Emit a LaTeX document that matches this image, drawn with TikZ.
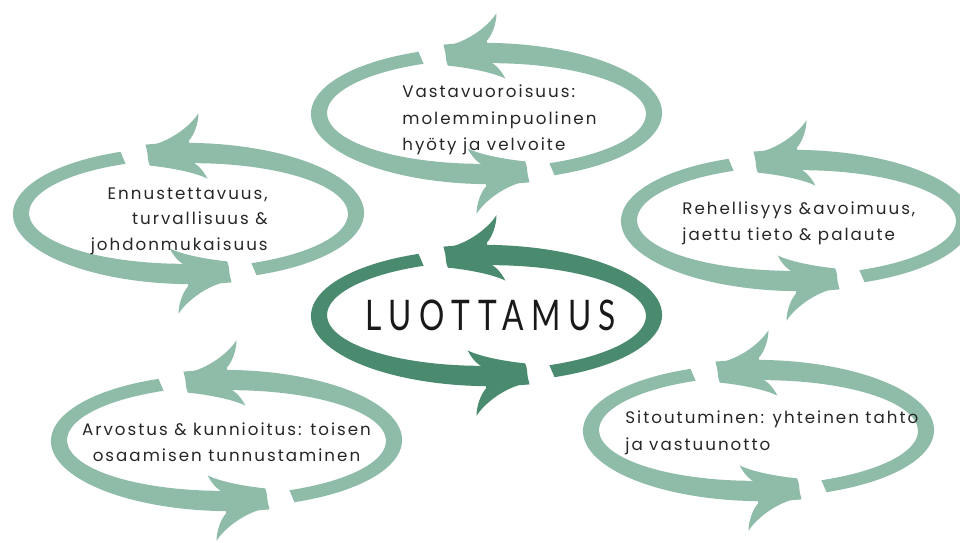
\documentclass[tikz,border=0pt]{standalone}
\usepackage{fontspec}
\setmainfont{Poppins}
\newfontfamily\ringfont[LetterSpace=12]{Poppins}
\newfontfamily\bigfont[FakeStretch=0.75,LetterSpace=18]{Lato}
\usetikzlibrary{positioning}
\definecolor{lightring}{HTML}{8FBCA8}
\definecolor{darkring}{HTML}{4A8A6E}
\tikzset{%
    % half of a ring: band from tail to head, then the barbed head
    halfring/.pic={
        \fill plot[domain=-67:104,samples=60,variable=\t]
            ({(167.5+6.5+4*(\t+67)/171)*cos(\t)},{(60.5+6.5+4*(\t+67)/171)*sin(\t)})
            -- plot[domain=104:-67,samples=60,variable=\t]
            ({(167.5-6.5-4*(\t+67)/171)*cos(\t)},{(60.5-6.5-4*(\t+67)/171)*sin(\t)})
            -- cycle;
        \fill[shift={(-40.5,58.7)},rotate=5.1]
            (42,10.5) .. controls (48,16) and (53,27) .. (54,37)
            .. controls (44,24) and (22,11) .. (2,9)
            .. controls (-1,5) and (-1,-7) .. (1,-11)
            .. controls (22,-15) and (46,-22) .. (57,-29)
            .. controls (54,-21) and (48,-13) .. (42,-10.5) -- cycle;
    },
    % two halves, turned half a turn
    ringpair/.pic={
        \pic {halfring};
        \pic[rotate=180] {halfring};
    },
}
\begin{document}
\begin{tikzpicture}[x=0.02cm,y=0.02cm]

    \tikzstyle{lbl}=[inner sep=0pt, text=black!85, font=\ringfont\fontsize{9.5}{11}\selectfont]
    \tikzstyle{title}=[inner sep=0pt, text=black!90, font=\bigfont\fontsize{24}{28}\selectfont]

    \clip (0,0) rectangle (960,542);

    % rings
    \pic[lightring] (ringtop)   at (486.5,428.5) {ringpair};
    \pic[lightring] (ringleft)  at (188.5,328.5) {ringpair};
    \pic[lightring] (ringright) at (796.5,321.5) {ringpair};
    \pic[lightring] (ringbl)    at (226.5,101.5) {ringpair};
    \pic[lightring] (ringbr)    at (758.5,111.5) {ringpair};
    \pic[darkring]  (ringmid)   at (486.5,226.5) {ringpair};

    % texts
    \node[title, anchor=base] (trust) at (491,212) {LUOTTAMUS};

    \node[lbl, anchor=base west] (recip1) at (402,444) {Vastavuoroisuus:};
    \node[lbl, anchor=base west] (recip2) at (402,418) {molemminpuolinen};
    \node[lbl, anchor=base west] (recip3) at (402,392) {hyöty ja velvoite};

    \node[lbl, anchor=base east] (pred1) at (268,343) {Ennustettavuus,};
    \node[lbl, anchor=base east] (pred2) at (268,318) {turvallisuus \&};
    \node[lbl, anchor=base east] (pred3) at (268,292) {johdonmukaisuus};

    \node[lbl, anchor=base west] (honest1) at (682,328) {Rehellisyys \&avoimuus,};
    \node[lbl, anchor=base west] (honest2) at (682,302) {jaettu tieto \& palaute};

    \node[lbl, anchor=base] (respect1) at (226.5,107) {Arvostus \& kunnioitus: toisen};
    \node[lbl, anchor=base] (respect2) at (226.5,81)  {osaamisen tunnustaminen};

    \node[lbl, anchor=base west] (commit1) at (625,119) {Sitoutuminen: yhteinen tahto};
    \node[lbl, anchor=base west] (commit2) at (625,92)  {ja vastuunotto};

\end{tikzpicture}
\end{document}
